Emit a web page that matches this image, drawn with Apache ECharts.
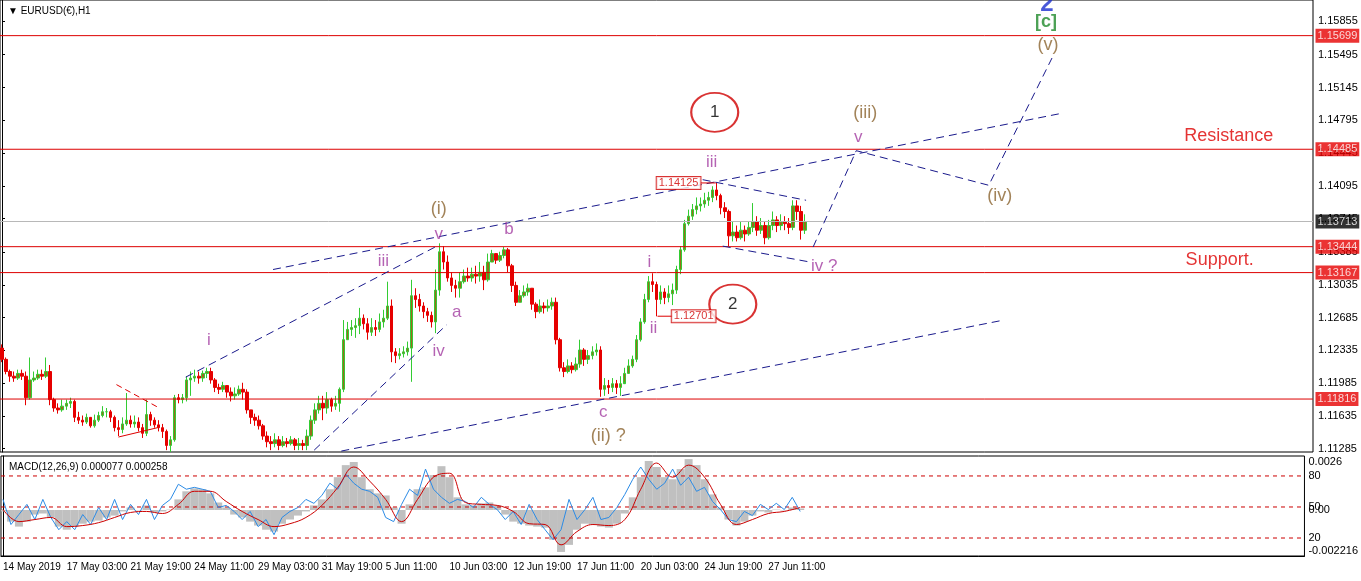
<!DOCTYPE html>
<html>
<head>
<meta charset="utf-8">
<script src="https://cdn.jsdelivr.net/npm/echarts@6/dist/echarts.min.js"></script>
<style>
  html, body { margin: 0; padding: 0; background: #fff; }
  #chart { width: 1361px; height: 581px; }
</style>
</head>
<body>
<div id="chart"></div>
<script>
  // EURUSD H1, drawn here as 4-hour bars
  var timeLabels = ['14 May 2019', '17 May 03:00', '21 May 19:00', '24 May 11:00', '29 May 03:00',
    '31 May 19:00', '5 Jun 11:00', '10 Jun 03:00', '12 Jun 19:00', '17 Jun 11:00',
    '20 Jun 03:00', '24 Jun 19:00', '27 Jun 11:00'];

  var open0 = 1.1236;
  var closes = [
    1.1224, 1.1211, 1.1206, 1.1204, 1.1209, 1.1206, 1.1183, 1.1202, 1.1204, 1.1208,
    1.1206, 1.1211, 1.1181, 1.1172, 1.1170, 1.1174, 1.1177, 1.1179, 1.1162, 1.1159,
    1.1157, 1.1162, 1.1153, 1.1159, 1.1164, 1.1168, 1.1168, 1.1162, 1.1151, 1.1149,
    1.1155, 1.1159, 1.1155, 1.1157, 1.1151, 1.1145, 1.1165, 1.1159, 1.1154, 1.1151,
    1.1147, 1.1132, 1.1138, 1.1183, 1.1181, 1.1183, 1.1202, 1.1204, 1.1206, 1.1204,
    1.1209, 1.1211, 1.1202, 1.1194, 1.1192, 1.1196, 1.1189, 1.1185, 1.1187, 1.1192,
    1.1189, 1.1170, 1.1162, 1.1159, 1.1153, 1.1142, 1.1136, 1.1134, 1.1138, 1.1132,
    1.1136, 1.1134, 1.1138, 1.1132, 1.1134, 1.1132, 1.1142, 1.1159, 1.1170, 1.1177,
    1.1172, 1.1181, 1.1174, 1.1177, 1.1192, 1.1245, 1.1256, 1.1258, 1.1260, 1.1268,
    1.1262, 1.1253, 1.1258, 1.1256, 1.1264, 1.1268, 1.1281, 1.1232, 1.1228, 1.1230,
    1.1232, 1.1236, 1.1292, 1.1288, 1.1281, 1.1275, 1.1271, 1.1264, 1.1298, 1.1339,
    1.1328, 1.1311, 1.1303, 1.1300, 1.1307, 1.1313, 1.1311, 1.1315, 1.1313, 1.1317,
    1.1309, 1.1328, 1.1337, 1.1330, 1.1335, 1.1341, 1.1324, 1.1303, 1.1285, 1.1292,
    1.1296, 1.1300, 1.1283, 1.1275, 1.1281, 1.1279, 1.1281, 1.1285, 1.1245, 1.1215,
    1.1211, 1.1217, 1.1213, 1.1219, 1.1234, 1.1224, 1.1228, 1.1232, 1.1234, 1.1192,
    1.1196, 1.1194, 1.1198, 1.1194, 1.1198, 1.1209, 1.1217, 1.1224, 1.1245, 1.1264,
    1.1288, 1.1307, 1.1304, 1.1288, 1.1296, 1.1290, 1.1294, 1.1298, 1.1320, 1.1341,
    1.1369, 1.1377, 1.1384, 1.1388, 1.1390, 1.1394, 1.1397, 1.1405, 1.1399, 1.1386,
    1.1382, 1.1356, 1.1360, 1.1354, 1.1362, 1.1358, 1.1365, 1.1371, 1.1362, 1.1367,
    1.1354, 1.1367, 1.1373, 1.1367, 1.1371, 1.1369, 1.1365, 1.1388, 1.1382, 1.1362,
    1.13713
  ];
  var highs = [
    1.1240, 1.1226, 1.1213, 1.1211, 1.1213, 1.1213, 1.1211, 1.1226, 1.1211, 1.1213,
    1.1213, 1.1226, 1.1218, 1.1183, 1.1177, 1.1181, 1.1181, 1.1183, 1.1181, 1.1168,
    1.1164, 1.1166, 1.1162, 1.1165, 1.1168, 1.1174, 1.1172, 1.1170, 1.1164, 1.1159,
    1.1162, 1.1188, 1.1164, 1.1164, 1.1162, 1.1155, 1.1181, 1.1168, 1.1162, 1.1159,
    1.1155, 1.1149, 1.1142, 1.1186, 1.1187, 1.1187, 1.1206, 1.1211, 1.1213, 1.1211,
    1.1212, 1.1215, 1.1215, 1.1204, 1.1198, 1.1200, 1.1196, 1.1194, 1.1194, 1.1196,
    1.1199, 1.1192, 1.1170, 1.1166, 1.1164, 1.1155, 1.1147, 1.1142, 1.1145, 1.1142,
    1.1142, 1.1140, 1.1142, 1.1140, 1.1140, 1.1138, 1.1149, 1.1164, 1.1177, 1.1185,
    1.1185, 1.1189, 1.1183, 1.1185, 1.1194, 1.1266, 1.1264, 1.1266, 1.1268, 1.1279,
    1.1272, 1.1268, 1.1268, 1.1266, 1.1273, 1.1277, 1.1307, 1.1288, 1.1236, 1.1236,
    1.1238, 1.1243, 1.1309, 1.1300, 1.1294, 1.1285, 1.1279, 1.1275, 1.1320, 1.1348,
    1.1345, 1.1335, 1.1317, 1.1309, 1.1317, 1.1320, 1.1322, 1.1322, 1.1324, 1.1328,
    1.1324, 1.1337, 1.1341, 1.1337, 1.1339, 1.1344, 1.1343, 1.1326, 1.1307, 1.1298,
    1.1303, 1.1305, 1.1300, 1.1285, 1.1288, 1.1285, 1.1288, 1.1290, 1.1290, 1.1247,
    1.1221, 1.1224, 1.1221, 1.1226, 1.1245, 1.1236, 1.1234, 1.1238, 1.1241, 1.1238,
    1.1204, 1.1202, 1.1204, 1.1202, 1.1206, 1.1215, 1.1224, 1.1228, 1.1250, 1.1268,
    1.1294, 1.1313, 1.1316, 1.1307, 1.1303, 1.1300, 1.1303, 1.1305, 1.1324, 1.1345,
    1.1373, 1.1384, 1.1390, 1.1397, 1.1397, 1.1402, 1.1403, 1.1409, 1.14125, 1.1401,
    1.1392, 1.1384, 1.1371, 1.1367, 1.1371, 1.1367, 1.1371, 1.1391, 1.1377, 1.1375,
    1.1371, 1.1373, 1.1382, 1.1377, 1.1379, 1.1377, 1.1375, 1.1394, 1.1394, 1.1388,
    1.1379
  ];
  var lows = [
    1.1221, 1.1208, 1.1200, 1.1200, 1.1202, 1.1202, 1.1175, 1.1181, 1.1200, 1.1202,
    1.1202, 1.1204, 1.1175, 1.1168, 1.1166, 1.1168, 1.1170, 1.1172, 1.1157, 1.1155,
    1.1153, 1.1155, 1.1151, 1.1151, 1.1157, 1.1162, 1.1162, 1.1157, 1.1147, 1.1142,
    1.1145, 1.1153, 1.1151, 1.1151, 1.1147, 1.1140, 1.1142, 1.1153, 1.1151, 1.1147,
    1.1140, 1.1127, 1.1125, 1.1136, 1.1177, 1.1177, 1.1179, 1.1185, 1.1200, 1.1198,
    1.1200, 1.1204, 1.1198, 1.1189, 1.1187, 1.1189, 1.1183, 1.1179, 1.1181, 1.1185,
    1.1181, 1.1166, 1.1155, 1.1153, 1.1149, 1.1138, 1.1130, 1.1127, 1.1130, 1.1127,
    1.1130, 1.1130, 1.1132, 1.1127, 1.1127, 1.1127, 1.1127, 1.1138, 1.1155, 1.1166,
    1.1159, 1.1166, 1.1168, 1.1170, 1.1168, 1.1189, 1.1245, 1.1249, 1.1247, 1.1251,
    1.1256, 1.1245, 1.1249, 1.1249, 1.1253, 1.1258, 1.1266, 1.1221, 1.1220, 1.1224,
    1.1226, 1.1228, 1.1200, 1.1279, 1.1275, 1.1268, 1.1264, 1.1258, 1.1252, 1.1292,
    1.1320, 1.1307, 1.1296, 1.1290, 1.1290, 1.1305, 1.1307, 1.1307, 1.1305, 1.1307,
    1.1298, 1.1307, 1.1328, 1.1326, 1.1328, 1.1332, 1.1317, 1.1296, 1.1281, 1.1285,
    1.1290, 1.1292, 1.1277, 1.1268, 1.1273, 1.1273, 1.1275, 1.1277, 1.1240, 1.1211,
    1.1205, 1.1209, 1.1209, 1.1211, 1.1215, 1.1217, 1.1219, 1.1224, 1.1228, 1.1184,
    1.1185, 1.1187, 1.1189, 1.1187, 1.1185, 1.1200, 1.1209, 1.1215, 1.1221, 1.1243,
    1.1262, 1.1285, 1.1296, 1.1270, 1.1283, 1.1283, 1.1285, 1.1282, 1.1294, 1.1315,
    1.1339, 1.1367, 1.1373, 1.1379, 1.1382, 1.1386, 1.1388, 1.1392, 1.1394, 1.1379,
    1.1375, 1.1345, 1.1350, 1.1350, 1.1352, 1.1350, 1.1356, 1.1360, 1.1356, 1.1358,
    1.1347, 1.1352, 1.1362, 1.1360, 1.1362, 1.1362, 1.1358, 1.1362, 1.1373, 1.1352,
    1.1358
  ];

  var levels = [1.15699, 1.14485, 1.13444, 1.13167, 1.11816];
  var lastPrice = 1.13713;
  var priceTicks = [1.11285, 1.11635, 1.11985, 1.12335, 1.12685, 1.13035, 1.13385,
    1.13745, 1.14095, 1.14445, 1.14795, 1.15145, 1.15495, 1.15855];

  // MACD panel: histogram and blue line every 2 bars, signal every 4 bars
  var macdHist = [
    -0.00007, -0.00056, -0.00080, -0.00056, -0.00022, -0.00017, -0.00036, -0.00080, -0.00095, -0.00080,
    -0.00066, -0.00056, -0.00051, -0.00036, -0.00027, -0.00007, 0.00012, -0.00002, 0.00022, -0.00012,
    -0.00007, 0.00002, 0.00051, 0.00090, 0.00104, 0.00100, 0.00080, 0.00036, 0.00012, -0.00022,
    -0.00036, -0.00056, -0.00075, -0.00095, -0.00104, -0.00066, -0.00046, -0.00027, -0.00007, 0.00022,
    0.00051, 0.00100, 0.00158, 0.00216, 0.00231, 0.00158, 0.00100, 0.00080, 0.00070, 0.00012,
    -0.00066, 0.00027, 0.00100, 0.00109, 0.00168, 0.00211, 0.00158, 0.00061, 0.00027, 0.00022,
    0.00032, 0.00036, 0.00022, -0.00022, -0.00056, -0.00066, -0.00075, -0.00080, -0.00085, -0.00143,
    -0.00202, -0.00168, -0.00095, -0.00066, -0.00070, -0.00080, -0.00085, -0.00066, -0.00017, 0.00061,
    0.00158, 0.00236, 0.00207, 0.00158, 0.00148, 0.00197, 0.00245, 0.00216, 0.00148, 0.00075,
    0.00012, -0.00046, -0.00075, -0.00056, -0.00027, -0.00007, -0.00012, 0.00002, -0.00002, 0.00012,
    0.00007
  ];
  var macdSignal = [
    0.00002, -0.00056, -0.00046, -0.00036, -0.00080, -0.00075, -0.00061, -0.00036, -0.00012, -0.00007,
    -0.00017, 0.00027, 0.00090, 0.00090, 0.00041, -0.00007, -0.00046, -0.00080, -0.00066, -0.00036,
    0.00022, 0.00109, 0.00207, 0.00139, 0.00051, -0.00056, 0.00051, 0.00158, 0.00177, 0.00036,
    0.00027, 0.00022, -0.00007, -0.00066, -0.00070, -0.00168, -0.00104, -0.00070, -0.00075, -0.00046,
    0.00100, 0.00226, 0.00158, 0.00216, 0.00158, 0.00027, -0.00070, -0.00046, -0.00017, -0.00007,
    0.00012
  ];
  var macdBlue = [
    0.00051, -0.00070, -0.00022, 0.00027, -0.00046, 0.00051, -0.00036, -0.00095, -0.00056, -0.00095,
    -0.00022, -0.00070, 0.00012, -0.00046, 0.00051, -0.00046, 0.00027, -0.00022, 0.00051, -0.00046,
    0.00022, 0.00051, 0.00124, 0.00100, 0.00109, 0.00100, 0.00090, 0.00012, 0.00022, -0.00007,
    -0.00046, -0.00007, -0.00080, -0.00046, -0.00119, -0.00036, -0.00007, 0.00012, 0.00051, 0.00032,
    0.00070, 0.00129, 0.00100, 0.00173, 0.00129, 0.00100, 0.00090, 0.00061, -0.00036, -0.00056,
    0.00027, 0.00100, 0.00070, 0.00197, 0.00100, 0.00061, 0.00032, 0.00051, 0.00041, 0.00012,
    0.00061, 0.00027, 0.00002, -0.00046, -0.00007, -0.00070, 0.00027, -0.00046, -0.00095, -0.00143,
    -0.00095, 0.00051, -0.00046, 0.00002, 0.00061, -0.00046, -0.00036, 0.00012, 0.00075, 0.00148,
    0.00207, 0.00148, 0.00100, 0.00129, 0.00197, 0.00119, 0.00158, 0.00090, 0.00109, 0.00041,
    0.00002, -0.00046, -0.00056, -0.00007, -0.00027, 0.00027, 0.00002, 0.00032, 0.00002, 0.00061,
    -0.00007
  ];
  var macdTicks = [-0.002216, 0, 0.0026];
  var oscLevels = [20, 50, 80];

  // drawn annotations, in bar index / price
  var trendLines = [
    { pts: [[67.5, 1.1320], [264, 1.1487]], kind: 'blue' },
    { pts: [[84.5, 1.1126], [249.5, 1.1266]], kind: 'blue' },
    { pts: [[45.75, 1.1205], [108.75, 1.1346]], kind: 'blue' },
    { pts: [[77.75, 1.1127], [110.75, 1.1261]], kind: 'blue' },
    { pts: [[174.5, 1.1416], [200.25, 1.1394]], kind: 'blue' },
    { pts: [[179.5, 1.1345], [201.25, 1.1328]], kind: 'blue' },
    { pts: [[202, 1.1344], [212.75, 1.1447], [245.75, 1.1410], [261.5, 1.1546]], kind: 'blue' },
    { pts: [[28.5, 1.1197], [38.75, 1.1173]], kind: 'redDash' },
    { pts: [[29, 1.1141], [38.75, 1.1151]], kind: 'red' },
    { pts: [[174, 1.14125], [177.75, 1.14125]], kind: 'red' },
    { pts: [[163.25, 1.12701], [167, 1.12701]], kind: 'red' }
  ];

  var waveLabels = [
    ['i', 51.5, 1.1244, 'minor'], ['iii', 95, 1.1329, 'minor'], ['v', 108.75, 1.1358, 'minor'],
    ['iv', 108.75, 1.1233, 'minor'], ['a', 113.25, 1.1274, 'minor'], ['b', 126.25, 1.1363, 'minor'],
    ['c', 149.75, 1.1167, 'minor'], ['i', 161.25, 1.1328, 'minor'], ['ii', 162.25, 1.1257, 'minor'],
    ['iii', 176.75, 1.1435, 'minor'], ['v', 213.25, 1.1461, 'minor'], ['iv ?', 204.75, 1.1323, 'minor'],
    ['(i)', 108.75, 1.1385, 'inter'], ['(ii) ?', 151, 1.1142, 'inter'], ['(iii)', 215, 1.1487, 'inter'],
    ['(iv)', 248.5, 1.1399, 'inter'], ['(v)', 260.5, 1.1560, 'inter'],
    ['[c]', 260, 1.1584, 'primary'], ['2', 260.25, 1.1603, 'cycle'],
    ['Resistance', 305.5, 1.1463, 'note'], ['Support.', 303.25, 1.1330, 'note']
  ];
  var circledLabels = [['1', 177.5, 1.1488], ['2', 182, 1.1283]];
  var priceTags = [['1.14125', 168.5, 1.14125], ['1.12701', 172.25, 1.12701]];

  var N_SLOTS = 327;
  var X_MIN = -0.5, X_MAX = N_SLOTS - 0.5;
  var categories = [];
  for (var i = 0; i < N_SLOTS; i++) {
    categories.push(i % 16 === 0 && timeLabels[i / 16] ? timeLabels[i / 16] : '');
  }
  var candles = closes.map(function (c, i) {
    var o = i === 0 ? open0 : closes[i - 1];
    return [o, c, lows[i], highs[i]];
  });

  var FONT = 'Liberation Sans';
  var RED = '#dd0000';
  var labelStyles = {
    minor: { color: '#a23ca0', fontSize: 17 },
    inter: { color: '#8b6430', fontSize: 18 },
    primary: { color: '#1f8a2a', fontSize: 18, fontWeight: 'bold' },
    cycle: { color: '#1c2fd0', fontSize: 24, fontWeight: 'bold' },
    note: { color: RED, fontSize: 18 }
  };
  var lineStyles = {
    blue: { color: '#1a1a8c', width: 1, type: [8, 5] },
    redDash: { color: RED, width: 1, type: [6, 4] },
    red: { color: RED, width: 1 }
  };

  var series = [];

  series.push({
    type: 'candlestick',
    xAxisIndex: 0, yAxisIndex: 0,
    data: candles,
    barWidth: 3,
    itemStyle: {
      color: '#9a6a1c', color0: '#e60000',
      borderColor: '#33cc33', borderColor0: '#e60000', borderWidth: 1
    }
  });

  // horizontal price levels across the whole panel
  levels.concat([lastPrice]).forEach(function (v) {
    var isLast = v === lastPrice;
    series.push({
      type: 'line', xAxisIndex: 2, yAxisIndex: 0, symbol: 'none', silent: true, z: 3,
      lineStyle: { color: isLast ? '#b8b8b8' : RED, width: 1, type: 'solid' },
      data: [[X_MIN, v], [X_MAX, v]]
    });
  });
  // their tags on the price scale
  series.push({
    type: 'scatter', xAxisIndex: 2, yAxisIndex: 0, symbolSize: 1, silent: true, z: 10,
    itemStyle: { color: 'rgba(0,0,0,0)' },
    label: {
      show: true, position: 'right', distance: 2, color: '#fff',
      padding: [2, 2, 1, 2], fontFamily: FONT, fontSize: 11,
      formatter: function (p) { return p.value[1].toFixed(5); }
    },
    data: levels.map(function (v) {
      return { value: [X_MAX, v], label: { backgroundColor: '#e60000' } };
    }).concat([{ value: [X_MAX, lastPrice], label: { backgroundColor: '#000' } }])
  });

  trendLines.forEach(function (l) {
    series.push({
      type: 'line', xAxisIndex: 2, yAxisIndex: 0, data: l.pts,
      symbol: 'none', silent: true, lineStyle: lineStyles[l.kind], z: 4
    });
  });

  series.push({
    type: 'scatter', xAxisIndex: 2, yAxisIndex: 0, symbolSize: 1, silent: true, z: 6,
    itemStyle: { color: 'rgba(0,0,0,0)' },
    data: waveLabels.map(function (w) {
      var st = labelStyles[w[3]];
      return {
        value: [w[1], w[2]],
        label: {
          show: true, position: 'inside', formatter: w[0], fontFamily: FONT,
          color: st.color, fontSize: st.fontSize, fontWeight: st.fontWeight || 'normal'
        }
      };
    })
  });

  series.push({
    type: 'scatter', xAxisIndex: 2, yAxisIndex: 0, symbol: 'circle', symbolSize: [47, 39],
    silent: true, z: 6,
    itemStyle: { color: 'rgba(255,255,255,0)', borderColor: '#d00000', borderWidth: 2 },
    label: { show: true, position: 'inside', color: '#000', fontSize: 17, fontFamily: FONT,
      formatter: function (p) { return p.data.name; } },
    data: circledLabels.map(function (c) { return { name: c[0], value: [c[1], c[2]] }; })
  });

  series.push({
    type: 'scatter', xAxisIndex: 2, yAxisIndex: 0, symbolSize: 1, silent: true, z: 7,
    itemStyle: { color: 'rgba(0,0,0,0)' },
    label: {
      show: true, position: 'inside', color: '#d00000', fontSize: 11, fontFamily: FONT,
      backgroundColor: '#fff', borderColor: '#d00000', borderWidth: 1, padding: [1, 2, 0, 2],
      formatter: function (p) { return p.data.name; }
    },
    data: priceTags.map(function (t) { return { name: t[0], value: [t[1], t[2]] }; })
  });

  series.push({
    type: 'bar', xAxisIndex: 1, yAxisIndex: 1, barWidth: 8, silent: true,
    itemStyle: { color: '#c0c0c0' },
    data: macdHist.map(function (v, k) { return [k * 2, v]; })
  });
  oscLevels.forEach(function (v) {
    series.push({
      type: 'line', xAxisIndex: 3, yAxisIndex: 2, symbol: 'none', silent: true, z: 3,
      lineStyle: { color: '#cc0000', width: 1, type: [4, 4] },
      data: [[X_MIN, v], [X_MAX, v]]
    });
  });
  series.push({
    type: 'line', xAxisIndex: 1, yAxisIndex: 1, symbol: 'none', silent: true, z: 4,
    lineStyle: { color: '#2b8be6', width: 1 },
    data: macdBlue.map(function (v, k) { return [k * 2, v]; })
  });
  series.push({
    type: 'line', xAxisIndex: 1, yAxisIndex: 1, symbol: 'none', smooth: 0.4, silent: true, z: 5,
    lineStyle: { color: '#cc0000', width: 1 },
    data: macdSignal.map(function (v, k) { return [k * 4, v]; })
  });

  var axisText = { color: '#000', fontFamily: FONT, fontSize: 11 };

  var option = {
    animation: false,
    backgroundColor: '#fff',
    title: [
      { text: '\u25BC EURUSD(\u20AC),H1', left: 3, top: 1,
        textStyle: { color: '#000', fontFamily: FONT, fontSize: 10, fontWeight: 'normal' } },
      { text: 'MACD(12,26,9) 0.000077 0.000258', left: 4, top: 457,
        textStyle: { color: '#000', fontFamily: FONT, fontSize: 10, fontWeight: 'normal' } }
    ],
    grid: [
      { left: -1, right: 48, top: -1, height: 453, show: true, borderColor: '#000', borderWidth: 1 },
      { left: -1, right: 48, top: 456, height: 100, show: true, borderColor: '#000', borderWidth: 1 }
    ],
    xAxis: [
      { type: 'category', gridIndex: 0, data: categories, show: false },
      {
        type: 'category', gridIndex: 1, data: categories,
        axisLine: { onZero: false, lineStyle: { color: '#000' } },
        axisTick: { length: 4, lineStyle: { color: '#000' },
          interval: function (i) { return i % 16 === 0; } },
        axisLabel: { interval: 0, align: 'left', margin: 6, color: '#000', fontFamily: FONT, fontSize: 10 },
        splitLine: { show: false }
      },
      { type: 'value', gridIndex: 0, min: X_MIN, max: X_MAX, show: false },
      { type: 'value', gridIndex: 1, min: X_MIN, max: X_MAX, show: false }
    ],
    yAxis: [
      {
        type: 'value', gridIndex: 0, position: 'right', min: 1.1125, max: 1.1608,
        axisLine: { show: true, lineStyle: { color: '#000' } },
        axisTick: { show: true, length: 3, customValues: priceTicks, lineStyle: { color: '#000' } },
        axisLabel: Object.assign({ customValues: priceTicks, margin: 5,
          formatter: function (v) { return v.toFixed(5); } }, axisText),
        splitLine: { show: false }
      },
      {
        type: 'value', gridIndex: 1, position: 'right', min: -0.002216, max: 0.0026,
        axisLine: { show: true, lineStyle: { color: '#000' } },
        axisTick: { show: false },
        axisLabel: Object.assign({ customValues: macdTicks, margin: 4,
          verticalAlignMaxLabel: 'top', verticalAlignMinLabel: 'bottom',
          formatter: function (v) { return v === 0 ? '0.00' : String(v); } }, axisText),
        splitLine: { show: false }
      },
      {
        type: 'value', gridIndex: 1, position: 'right', min: 2.6, max: 99.3,
        axisLine: { show: false }, axisTick: { show: false },
        axisLabel: Object.assign({ customValues: oscLevels, margin: 4 }, axisText),
        splitLine: { show: false }
      }
    ],
    series: series
  };

  var chart = echarts.init(document.getElementById('chart'));
  chart.setOption(option);
</script>
</body>
</html>
